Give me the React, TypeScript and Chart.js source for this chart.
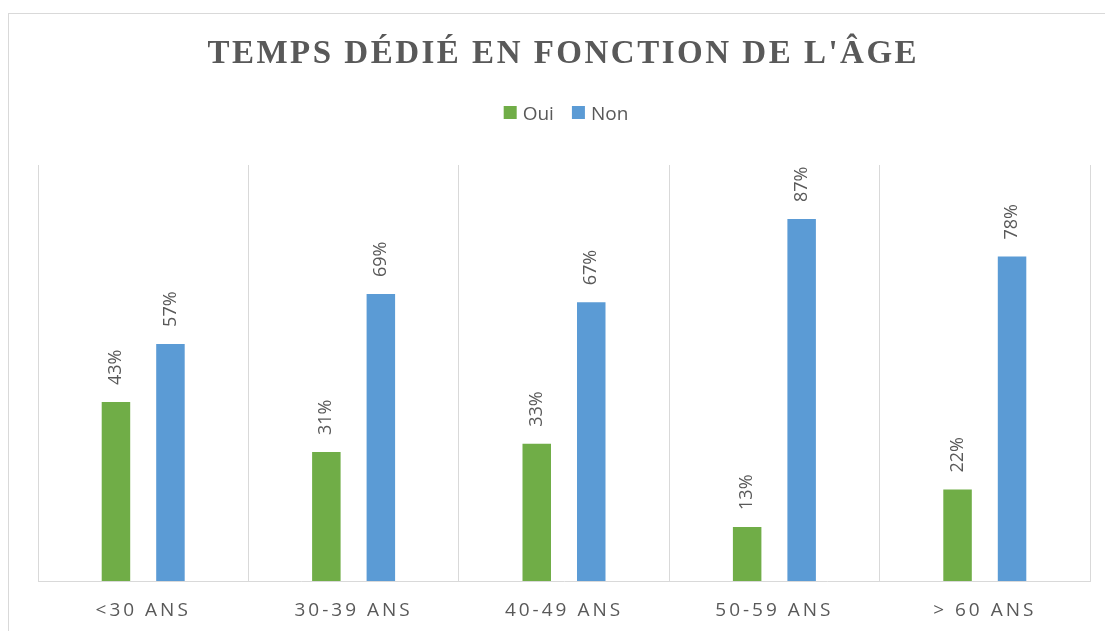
import React, { useEffect, useRef } from "react";
import { Chart, registerables } from "chart.js";

Chart.register(...registerables);

const categories = ["<30 ANS", "30-39 ANS", "40-49 ANS", "50-59 ANS", "> 60 ANS"];
const ouiValues = [43, 31, 33, 13, 22];
const nonValues = [57, 69, 67, 87, 78];
const seriesNames = ["Oui", "Non"];
const titleText = "TEMPS DÉDIÉ EN FONCTION DE L'ÂGE";

const GREEN = "#70AD47";
const BLUE = "#5B9BD5";
const TEXT = "#595959";
const GRID = "#D9D9D9";
const SANS = "'Open Sans', 'Liberation Sans', sans-serif";

const tickSpacingPlugin = {
  id: "tickSpacing",
  beforeDraw(chart: any) {
    chart.ctx.letterSpacing = "3px";
  },
  beforeDatasetsDraw(chart: any) {
    chart.ctx.letterSpacing = "0px";
  },
};

const decorPlugin = {
  id: "decor",
  afterDraw(chart: any) {
    const ctx = chart.ctx as CanvasRenderingContext2D & { letterSpacing: string };
    const area = chart.chartArea;
    const cx = (area.left + area.right) / 2;
    ctx.save();
    ctx.fillStyle = TEXT;
    ctx.textAlign = "left";
    ctx.textBaseline = "alphabetic";

    // Title
    ctx.font = "bold 33px 'Liberation Serif', 'DejaVu Serif', serif";
    ctx.letterSpacing = "2.5px";
    const tw = ctx.measureText(titleText).width - 2.5;
    ctx.fillText(titleText, cx - 2 - tw / 2, 63);

    // Legend
    ctx.letterSpacing = "0px";
    ctx.font = `19px ${SANS}`;
    const box = 13;
    const gap = 6;
    const itemGap = 18;
    const items = chart.data.datasets.map((ds: any) => ({
      text: ds.label,
      color: ds.backgroundColor,
      w: ctx.measureText(ds.label).width,
    }));
    const total =
      items.reduce((s: number, it: any) => s + box + gap + it.w, 0) + itemGap * (items.length - 1);
    let x = cx + 2 - total / 2;
    for (const it of items) {
      ctx.fillStyle = it.color;
      ctx.fillRect(x, 106, box, box);
      ctx.fillStyle = TEXT;
      ctx.fillText(it.text, x + box + gap, 120);
      x += box + gap + it.w + itemGap;
    }

    // Data labels
    ctx.font = `18px ${SANS}`;
    chart.data.datasets.forEach((ds: any, di: number) => {
      const meta = chart.getDatasetMeta(di);
      meta.data.forEach((bar: any, i: number) => {
        ctx.save();
        ctx.translate(bar.x, bar.y - 17);
        ctx.rotate(-Math.PI / 2);
        ctx.textAlign = "left";
        ctx.textBaseline = "middle";
        ctx.fillStyle = TEXT;
        ctx.fillText(`${ds.data[i]}%`, 0, 0);
        ctx.restore();
      });
    });
    ctx.restore();
  },
};

export default function App() {
  const canvasRef = useRef<HTMLCanvasElement | null>(null);

  useEffect(() => {
    if (!canvasRef.current) return;
    const chart = new Chart(canvasRef.current, {
      type: "bar",
      data: {
        labels: categories,
        datasets: [
          {
            label: seriesNames[0],
            data: ouiValues,
            backgroundColor: GREEN,
            categoryPercentage: 0.518,
            barPercentage: 0.523,
          },
          {
            label: seriesNames[1],
            data: nonValues,
            backgroundColor: BLUE,
            categoryPercentage: 0.518,
            barPercentage: 0.523,
          },
        ],
      },
      options: {
        responsive: false,
        animation: false,
        devicePixelRatio: 1,
        layout: { padding: { left: 38, right: 15, top: 165, bottom: 0 } },
        plugins: {
          legend: { display: false },
          title: { display: false },
          tooltip: { enabled: false },
        },
        scales: {
          x: {
            grid: { display: true, offset: true, color: GRID, lineWidth: 1, drawTicks: false },
            border: { display: true, color: GRID, width: 1 },
            ticks: { color: TEXT, font: { family: SANS, size: 19 }, padding: 18, maxRotation: 0 },
            afterFit: (s: any) => {
              s.height = 50;
            },
          },
          y: { display: false, min: 0, max: 100 },
        },
      },
      plugins: [tickSpacingPlugin, decorPlugin],
    } as any);
    return () => chart.destroy();
  }, []);

  return (
    <>
      <canvas
        ref={canvasRef}
        width={1105}
        height={631}
        style={{ position: "absolute", left: 0, top: 0, width: 1105, height: 631, display: "block" }}
      />
      <div
        style={{
          position: "absolute",
          left: 8,
          top: 13,
          width: 1097,
          height: 618,
          boxSizing: "border-box",
          borderTop: `1px solid ${GRID}`,
          borderLeft: `1px solid ${GRID}`,
          pointerEvents: "none",
        }}
      />
    </>
  );
}
